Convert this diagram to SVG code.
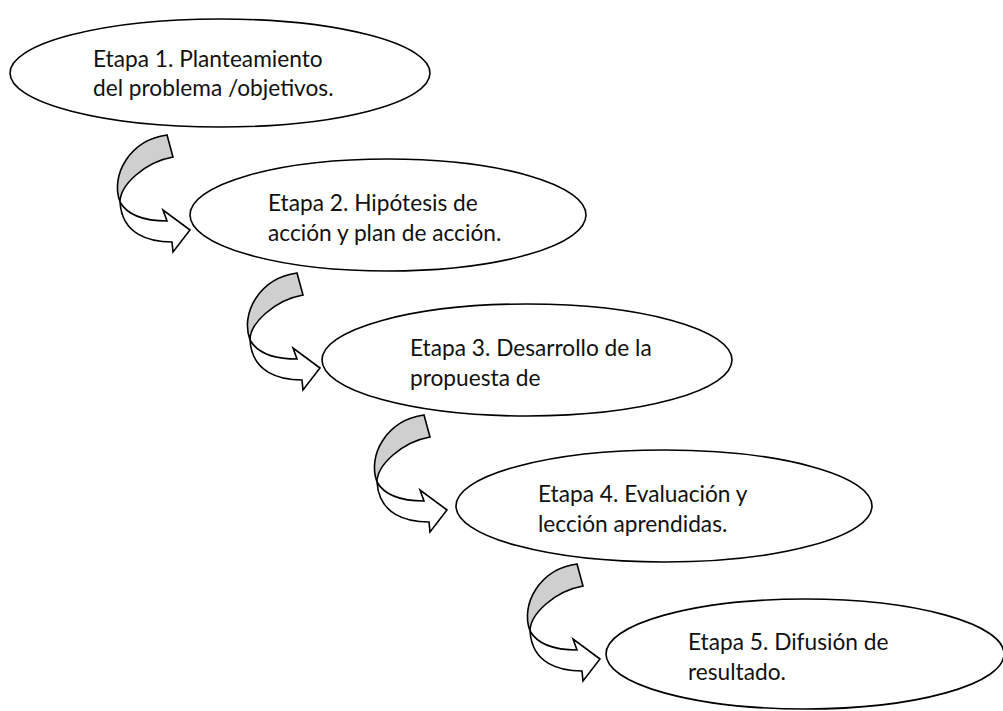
<svg xmlns="http://www.w3.org/2000/svg" width="1003" height="711" viewBox="0 0 1003 711">
<style>
.node ellipse{fill:#fff;stroke:#000;stroke-width:1.6}
.node text{font-family:Lato,"Open Sans","Liberation Sans",sans-serif;font-size:22.7px;fill:#111}
.back{fill:#cfcfcf;stroke:#000;stroke-width:1.6;stroke-linejoin:miter}
.front{fill:#fff;stroke:#000;stroke-width:1.6;stroke-linejoin:miter}
</style>
<defs>
<g id="carrow">
<path class="back" d="M -23,-95 C -60,-90 -80,-55 -70,-28 C -70,-45 -45,-68 -17,-73 Z"/>
<path class="front" d="M -70,-28 C -62,-14 -45,-9 -23,-9 L -27,-20 L 0,0 L -17,22 L -18,12 C -40,12 -68,5 -70,-28 Z"/>
</g>
</defs>
<rect width="1003" height="711" fill="#fff"/>
<g id="connectors">
<use href="#carrow" transform="translate(190,230)"/>
<use href="#carrow" transform="translate(320,368)"/>
<use href="#carrow" transform="translate(447,510)"/>
<use href="#carrow" transform="translate(600,659)"/>
</g>
<g id="etapa1" class="node">
<ellipse cx="220" cy="73" rx="210" ry="54"/>
<text x="93" y="67">Etapa 1. Planteamiento</text>
<text x="93" y="96">del problema /objetivos.</text>
</g>
<g id="etapa2" class="node">
<ellipse cx="388" cy="215" rx="198" ry="56"/>
<text x="268" y="211">Etapa 2. Hipótesis de</text>
<text x="268" y="241">acción y plan de acción.</text>
</g>
<g id="etapa3" class="node">
<ellipse cx="527" cy="360" rx="205" ry="56"/>
<text x="410" y="356">Etapa 3. Desarrollo de la</text>
<text x="410" y="386">propuesta de</text>
</g>
<g id="etapa4" class="node">
<ellipse cx="664" cy="506" rx="208" ry="56"/>
<text x="538" y="502">Etapa 4. Evaluación y</text>
<text x="538" y="532">lección aprendidas.</text>
</g>
<g id="etapa5" class="node">
<ellipse cx="805" cy="654" rx="199" ry="55"/>
<text x="688" y="650">Etapa 5. Difusión de</text>
<text x="688" y="680">resultado.</text>
</g>
</svg>
